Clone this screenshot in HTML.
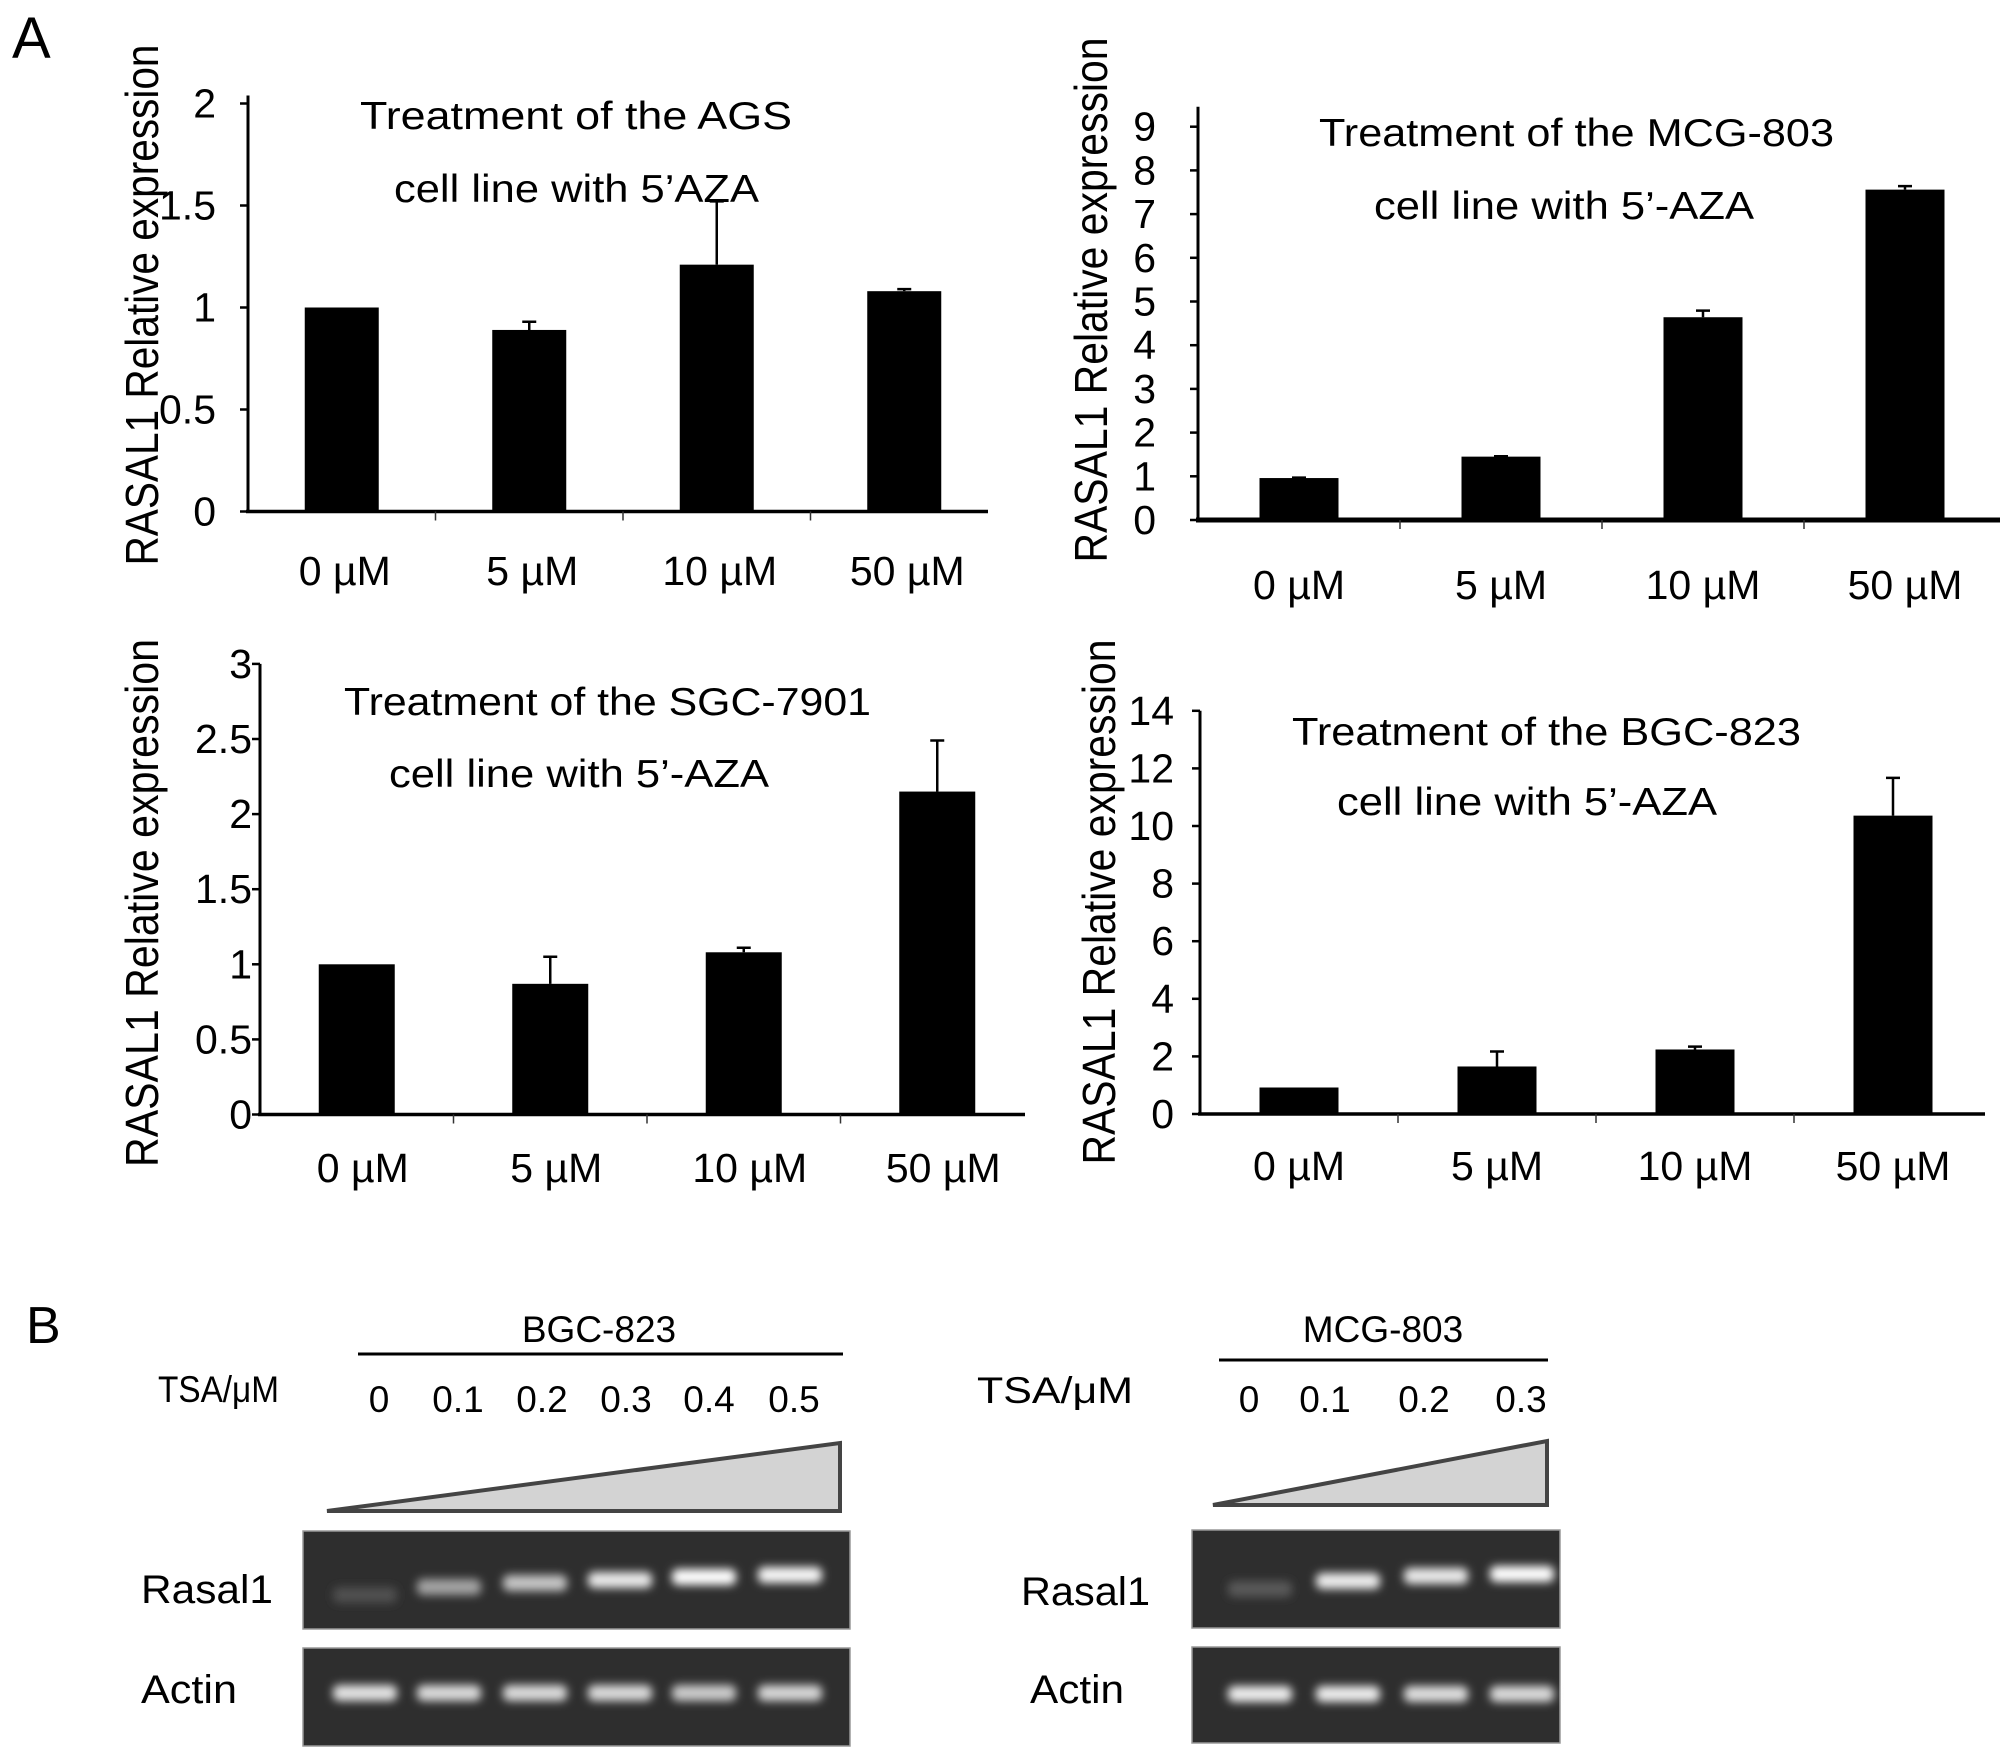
<!DOCTYPE html>
<html><head><meta charset="utf-8">
<style>
html,body{margin:0;padding:0;background:#fff;}
svg{display:block;font-family:"Liberation Sans",Arial,sans-serif;}
</style></head>
<body>
<svg id="fig" width="2008" height="1758" viewBox="0 0 2008 1758" xmlns="http://www.w3.org/2000/svg">
<defs>
<filter id="blur" x="-30%" y="-100%" width="160%" height="300%"><feGaussianBlur stdDeviation="4.5"/></filter>
</defs>
<text x="12" y="58" font-size="58">A</text>
<text x="26" y="1343" font-size="52">B</text>
<g id="charts"></g>
<g id="partb">
  <text x="599" y="1342" font-size="37" text-anchor="middle">BGC-823</text>
  <line x1="358" y1="1354" x2="843" y2="1354" stroke="#000" stroke-width="3"/>
  <text x="158" y="1402" font-size="37" textLength="121" lengthAdjust="spacingAndGlyphs">TSA/μM</text>
  <polygon points="327,1511 840,1443 840,1511" fill="#d3d3d3" stroke="#444" stroke-width="4"/>
  <text x="141" y="1603" font-size="40" textLength="132" lengthAdjust="spacingAndGlyphs">Rasal1</text>
  <text x="141" y="1703" font-size="40" textLength="96" lengthAdjust="spacingAndGlyphs">Actin</text>
  <text x="1383" y="1342" font-size="37" text-anchor="middle">MCG-803</text>
  <line x1="1219" y1="1360" x2="1548" y2="1360" stroke="#000" stroke-width="3"/>
  <text x="977" y="1403" font-size="37" textLength="156" lengthAdjust="spacingAndGlyphs">TSA/μM</text>
  <polygon points="1213,1505 1547,1441 1547,1505" fill="#d3d3d3" stroke="#444" stroke-width="4"/>
  <text x="1021" y="1605" font-size="40" textLength="129" lengthAdjust="spacingAndGlyphs">Rasal1</text>
  <text x="1030" y="1703" font-size="40" textLength="94" lengthAdjust="spacingAndGlyphs">Actin</text>
  <g id="gels"></g>
</g>
</svg>
<script>
const NS="http://www.w3.org/2000/svg";
const categories=["0 µM","5 µM","10 µM","50 µM"];
const agsValues=[1.0,0.89,1.21,1.08];
const agsErrors=[0,0.04,0.31,0.01];
const agsTicks=[0,0.5,1,1.5,2];
const agsTickLabels=["0","0.5","1","1.5","2"];
const mcgValues=[0.96,1.45,4.64,7.56];
const mcgErrors=[0.01,0.01,0.15,0.08];
const mcgTicks=[0,1,2,3,4,5,6,7,8,9];
const mcgTickLabels=["0","1","2","3","4","5","6","7","8","9"];
const sgcValues=[1.0,0.87,1.08,2.15];
const sgcErrors=[0,0.18,0.03,0.34];
const sgcTicks=[0,0.5,1,1.5,2,2.5,3];
const sgcTickLabels=["0","0.5","1","1.5","2","2.5","3"];
const bgcValues=[0.92,1.65,2.24,10.36];
const bgcErrors=[0,0.52,0.1,1.31];
const bgcTicks=[0,2,4,6,8,10,12,14];
const bgcTickLabels=["0","2","4","6","8","10","12","14"];
const bgcDoses=["0","0.1","0.2","0.3","0.4","0.5"];
const bgcRasal=[0.05,0.5,0.68,0.88,1.0,0.95];
const bgcActin=[0.85,0.8,0.8,0.8,0.72,0.78];
const mcgDoses=["0","0.1","0.2","0.3"];
const mcgRasal=[0.1,0.9,0.88,1.0];
const mcgActin=[0.9,0.9,0.82,0.8];

function mk(tag,attrs,parent){const e=document.createElementNS(NS,tag);for(const k in attrs)e.setAttribute(k,attrs[k]);parent.appendChild(e);return e;}

function chart(id,vals,errs,ticks,tickLabels,L,t1,t2){
  const g=mk('g',{},document.getElementById('charts'));
  
  
  const y=v=>L.y0-v*L.ppu;
  const xc=i=>L.ax+(i+0.5)*L.bw;
  const yTop=y(ticks[ticks.length-1])-(L.topExtra||0);
  const ya=mk('line',{x1:L.ax,y1:yTop,x2:L.ax,y2:L.y0,stroke:'#000','stroke-width':3},g);
  
  
  const xa=mk('line',{x1:L.ax-2,y1:L.y0,x2:L.xEnd,y2:L.y0,stroke:'#000','stroke-width':L.xw||3.5},g);
  
  
  ticks.forEach((t,i)=>{
    const tk=mk('line',{x1:L.ax-8,y1:y(t),x2:L.ax,y2:y(t),stroke:'#000','stroke-width':2.5},g);
    
    
    const tl=mk('text',{x:L.lx,y:y(t)+14,'font-size':41,'text-anchor':'end'},g);
    tl.textContent=tickLabels[i];
    
    
  });
  for(let i=1;i<categories.length;i++){
    const xt=mk('line',{x1:L.ax+i*L.bw,y1:L.y0,x2:L.ax+i*L.bw,y2:L.y0+9,stroke:'#333','stroke-width':1.5},g);
    
    
  }
  vals.forEach((v,i)=>{
    const b=mk('rect',{x:xc(i)-L.w/2,y:y(v),width:L.w,height:L.y0-y(v),fill:'#000'},g);
    
    
    if(errs[i]>0){
      const e=mk('path',{d:`M${xc(i)},${y(v)}V${y(v+errs[i])}M${xc(i)-7},${y(v+errs[i])}H${xc(i)+7}`,stroke:'#000','stroke-width':2.5,fill:'none'},g);
      
      
    }
    const c=mk('text',{x:xc(i)+(L.lo||0),y:L.lb,'font-size':41,'text-anchor':'middle'},g);
    c.textContent=categories[i];
    
    
  });
  const a=mk('text',{transform:`translate(${L.tx},${L.tyc}) rotate(-90)`,'font-size':46,'text-anchor':'middle',textLength:L.tl,lengthAdjust:'spacingAndGlyphs'},g);
  a.textContent='RASAL1 Relative expression';
  
  
  [t1,t2].forEach((t,k)=>{
    const tt=mk('text',{x:t[0],y:t[2],'font-size':39,textLength:t[1]-t[0],lengthAdjust:'spacingAndGlyphs'},g);
    tt.textContent=t[3];
    
    
  });
}
chart('ags',agsValues,agsErrors,agsTicks,agsTickLabels,
 {ax:248,y0:511.5,ppu:204,bw:187.5,w:74,xEnd:988,lx:216,lb:585,tx:158,tyc:305,tl:521,topExtra:8,lo:3},
 [360,792,129,'Treatment of the  AGS'],[394,759,202,'cell line with 5’AZA']);
chart('mcg',mcgValues,mcgErrors,mcgTicks,mcgTickLabels,
 {ax:1198,y0:520,ppu:43.7,bw:202,w:79,xEnd:2000,lx:1156,lb:599,tx:1107,tyc:300,tl:525,topExtra:20,xw:5},
 [1319,1834,146,'Treatment of the MCG-803'],[1374,1754,219,'cell line with 5’-AZA']);
chart('sgc',sgcValues,sgcErrors,sgcTicks,sgcTickLabels,
 {ax:260,y0:1114.5,ppu:150.2,bw:193.5,w:76,xEnd:1025,lx:252,lb:1182,tx:158,tyc:903,tl:528,lo:6},
 [344,871,715,'Treatment of the SGC-7901'],[389,769,787,'cell line with 5’-AZA']);
chart('bgc',bgcValues,bgcErrors,bgcTicks,bgcTickLabels,
 {ax:1200,y0:1114,ppu:28.8,bw:198,w:79,xEnd:1985,lx:1174,lb:1180,tx:1115,tyc:902,tl:525},
 [1292,1801,745,'Treatment of the BGC-823'],[1337,1717,815,'cell line with 5’-AZA']);

function gel(id,x0,x1,top,bot,lanes,ys,intens){
  const g=mk('g',{},document.getElementById('gels'));
  
  
  const r=mk('rect',{x:x0,y:top,width:x1-x0,height:bot-top,fill:'#2e2e2e',stroke:'#999','stroke-width':1.5},g);
  
  
  lanes.forEach((cx,i)=>{
    const v=Math.round(70+185*intens[i]);
    const b=mk('rect',{x:cx-32,y:ys[i]-8,width:64,height:16,rx:6,fill:`rgb(${v},${v},${v})`,filter:'url(#blur)'},g);
    
    
  });
}
const bgcLanes=[365,449,535,620,704,790];
const mcgLanes=[1260,1348,1436,1522];
gel('bgc-rasal1-gel',303,850,1531,1629,bgcLanes,[1595,1587,1583,1580,1577,1575],bgcRasal);
gel('bgc-actin-gel',303,850,1648,1746,bgcLanes,[1693,1693,1693,1693,1693,1693],bgcActin);
gel('mcg-rasal1-gel',1192,1560,1530,1628,mcgLanes,[1589,1581,1576,1574],mcgRasal);
gel('mcg-actin-gel',1192,1560,1647,1743,mcgLanes,[1694,1694,1694,1694],mcgActin);

const pb=document.getElementById('partb');
const bgcDoseX=[379,458,542,626,709,794];
bgcDoses.forEach((d,i)=>{
  const t=mk('text',{x:bgcDoseX[i],y:1412,'font-size':37,'text-anchor':'middle'},pb);
  t.textContent=d;
  
  
});
const mcgDoseX=[1249,1325,1424,1521];
mcgDoses.forEach((d,i)=>{
  const t=mk('text',{x:mcgDoseX[i],y:1412,'font-size':37,'text-anchor':'middle'},pb);
  t.textContent=d;
  
  
});
</script>
</body></html>
